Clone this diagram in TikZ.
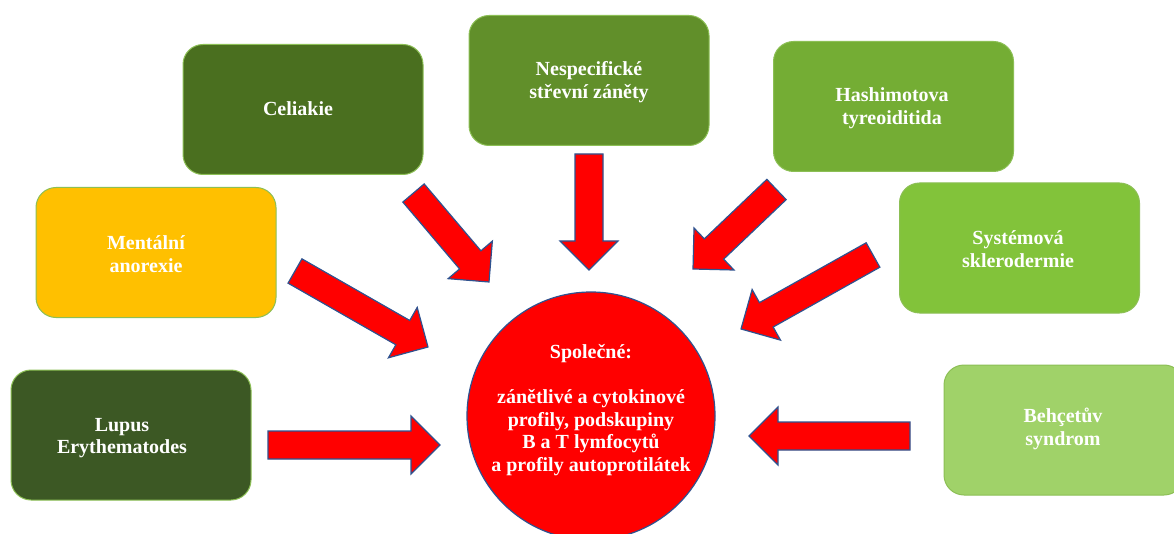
\documentclass[tikz,border=0pt]{standalone}
\usepackage{fontspec}
\setmainfont{Liberation Serif}
\usetikzlibrary{calc}
\definecolor{cCel}{HTML}{4A6F1F}
\definecolor{cNes}{HTML}{618F2A}
\definecolor{cHas}{HTML}{74AD34}
\definecolor{cSys}{HTML}{82C33A}
\definecolor{cBeh}{HTML}{A0D269}
\definecolor{cLup}{HTML}{3C5824}
\definecolor{cMen}{HTML}{FFC000}
\definecolor{boxline}{HTML}{8CBF55}
\definecolor{arrline}{HTML}{2F528F}
\definecolor{cRed}{HTML}{FF0000}
\tikzset{
  box/.style={draw=boxline, line width=1pt, rounded corners=20pt,
    minimum width=240pt, minimum height=130pt, inner sep=0pt},
  lbl/.style={text=white, font=\fontsize{20}{22.5}\selectfont\bfseries,
    align=center, inner sep=0pt},
  barrow/.style={draw=arrline, fill=cRed, line width=1.2pt, line join=miter},
  hub/.style={circle, draw=arrline, fill=cRed, line width=1.2pt,
    minimum size=248pt, inner sep=0pt}
}
\newcommand\blockarrow[2]{%
  \coordinate (#1b) at ($(#2)!29pt!(#1)$);
  \draw[barrow] ($(#1)!14pt!90:(#2)$) -- ($(#1b)!14pt!-90:(#1)$)
    -- ($(#1b)!29pt!-90:(#1)$) -- (#2) -- ($(#1b)!29pt!90:(#1)$)
    -- ($(#1b)!14pt!90:(#1)$) -- ($(#1)!14pt!-90:(#2)$) -- cycle;
}
\begin{document}
\begin{tikzpicture}[x=1pt,y=-1pt]
\useasboundingbox[fill=white] (0,0) rectangle (1174,534);

% boxes
\node[box, fill=cCel] (cel) at (303,109.5) {};
\node[box, fill=cNes] (nes) at (589,80.5) {};
\node[box, fill=cHas] (has) at (893.5,106.5) {};
\node[box, fill=cMen] (men) at (156,252.5) {};
\node[box, fill=cSys] (sys) at (1019.5,248) {};
\node[box, fill=cLup] (lup) at (131,435) {};
\node[box, fill=cBeh] (beh) at (1064,430) {};

% labels
\node[lbl] (celT) at (298,109) {Celiakie};
\node[lbl] (nesT) at (589,82) {Nespecifické\\střevní záněty};
\node[lbl] (hasT) at (892,108) {Hashimotova\\tyreoiditida};
\node[lbl] (menT) at (146,254) {Mentální\\anorexie};
\node[lbl] (sysT) at (1018,249) {Systémová\\sklerodermie};
\node[lbl] (lupT) at (122,438) {Lupus\\Erythematodes};
\node[lbl] (behT) at (1063,429) {Behçetův\\syndrom};

% hub
\node[hub] (hub) at (591,416) {};
\node[lbl] (hubT) at (591,410) {Společné:\\[22.5pt]zánětlivé a cytokinové\\profily, podskupiny\\B a T lymfocytů\\a profily autoprotilátek};

% arrow coordinates
\coordinate (aCel) at (413.5,193);  \coordinate (hCel) at (489,282);
\coordinate (aNes) at (589,154);    \coordinate (hNes) at (589,270);
\coordinate (aHas) at (776.5,189.5); \coordinate (hHas) at (693,269);
\coordinate (aMen) at (295,271);    \coordinate (hMen) at (428,347);
\coordinate (aSys) at (873,255);    \coordinate (hSys) at (741,329);
\coordinate (aLup) at (268,445);    \coordinate (hLup) at (440,445);
\coordinate (aBeh) at (910,436);    \coordinate (hBeh) at (749,436);

\blockarrow{aCel}{hCel}
\blockarrow{aNes}{hNes}
\blockarrow{aHas}{hHas}
\blockarrow{aMen}{hMen}
\blockarrow{aSys}{hSys}
\blockarrow{aLup}{hLup}
\blockarrow{aBeh}{hBeh}
\end{tikzpicture}
\end{document}
